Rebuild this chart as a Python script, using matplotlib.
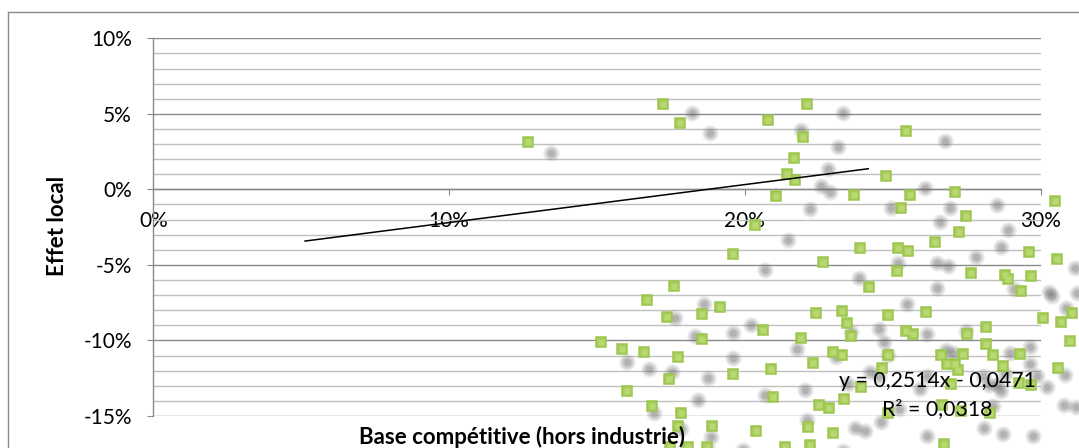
import matplotlib
matplotlib.use("Agg")
import matplotlib.pyplot as plt
from matplotlib.ticker import MultipleLocator, FuncFormatter
from matplotlib.transforms import Affine2D
from matplotlib.lines import Line2D

# base competitive (hors industrie), in %
base_comp = [12.67, 17.24, 17.82, 22.11, 20.77, 21.95, 21.65, 21.41, 21.69, 21.06,
             23.68, 24.76, 20.34, 19.61, 23.90, 22.63, 25.43, 25.57, 27.10, 25.27,
             27.46, 27.24, 26.42, 25.17, 25.50, 29.61, 30.48, 30.54, 25.15, 27.64,
             17.62, 16.68, 17.35, 18.55, 15.13, 15.86, 16.59, 18.55, 17.75, 17.43,
             16.00, 16.87, 17.84, 17.75, 17.47, 18.07, 18.71, 18.89, 24.19, 19.16,
             22.39, 23.27, 23.46, 24.84, 20.62, 21.89, 23.58, 22.99, 23.28, 24.84,
             22.29, 20.88, 19.59, 24.62, 23.93, 20.94, 23.34, 22.52, 22.84, 20.38,
             22.13, 22.99, 22.19, 21.34, 28.79, 28.89, 29.68, 29.33, 26.11, 30.08,
             30.69, 31.07, 25.44, 25.68, 27.51, 28.16, 28.16, 30.98, 26.63, 27.36,
             28.38, 29.29, 26.83, 27.10, 27.22, 28.71, 30.60, 26.97, 29.25, 29.66,
             26.67, 27.29, 28.27, 26.73, 24.85]

# effet local, in %
effet_local = [3.14, 5.63, 4.41, 5.63, 4.59, 3.47, 2.10, 1.02, 0.62, -0.44,
               -0.37, 0.91, -2.39, -4.28, -3.86, -4.80, 3.85, -0.37, -0.16, -1.22,
               -1.73, -2.80, -3.47, -3.86, -4.06, -4.13, -0.79, -4.59, -5.41, -5.51,
               -6.41, -7.34, -8.44, -8.27, -10.12, -10.55, -10.76, -9.88, -11.11, -12.53,
               -13.34, -14.37, -14.83, -15.67, -17.08, -17.03, -17.05, -15.67, -6.45, -7.77,
               -8.19, -8.03, -8.87, -8.33, -9.31, -9.82, -9.68, -10.75, -10.99, -10.97,
               -11.48, -11.90, -12.22, -11.84, -13.10, -13.77, -13.89, -14.26, -14.45, -15.99,
               -15.76, -16.10, -16.95, -17.05, -5.65, -5.93, -5.73, -6.72, -8.13, -8.51,
               -8.81, -8.19, -9.35, -9.56, -9.55, -9.13, -10.21, -10.03, -10.97, -10.88,
               -10.99, -10.91, -11.54, -11.54, -11.97, -11.67, -11.84, -12.88, -12.81, -12.96,
               -14.28, -14.69, -14.82, -16.88, -14.77]

# linear trend (as printed on the chart) and its x span
slope = 0.2514
intercept = -0.0471
trend_x = [0.0513, 0.2417]

x = [v / 100 for v in base_comp]
y = [v / 100 for v in effet_local]

plt.rcParams['font.family'] = ['Lato', 'DejaVu Sans']

W, H = 1079, 448
fig = plt.figure(figsize=(W / 100, H / 100), dpi=100)
ax = fig.add_axes([153.3 / W, 1 - 416 / H, (1040.7 - 153.3) / W, (416 - 38.3) / H])

grid_major = '#8a8a8a'
grid_minor = '#c0c0c0'

# grey perspective shadow behind the markers
shadow_tr = ax.transData + Affine2D().translate(-38, -539).scale(1.046).translate(38, 539)
for ms, a in [(12, 0.10), (10, 0.14), (7.5, 0.18), (5, 0.22)]:
    ax.plot(x, y, 'o', ms=ms, color='#6a6a6a', alpha=a, mec='none',
            transform=shadow_tr, clip_on=False, zorder=3)

ax.plot(x, y, 's', ms=7.0, mfc='#a6cc55', mec='#9cc650', mew=1.1,
        linestyle='none', clip_on=False, zorder=4)
ax.plot(x, y, 's', ms=4.2, mfc='#b9d874', mec='none',
        linestyle='none', clip_on=False, zorder=4)

tx = trend_x
ty = [slope * v + intercept for v in tx]
ax.plot(tx, ty, color='black', lw=1.1, zorder=5, clip_on=False)

ax.set_xlim(0, 0.30)
ax.set_ylim(-0.15, 0.10)

pct = FuncFormatter(lambda v, p: f"{round(v * 100):d}%")
ax.xaxis.set_major_locator(MultipleLocator(0.10))
ax.yaxis.set_major_locator(MultipleLocator(0.05))
ax.yaxis.set_minor_locator(MultipleLocator(0.01))
ax.xaxis.set_major_formatter(pct)
ax.yaxis.set_major_formatter(pct)

ax.grid(True, axis='y', which='minor', color=grid_minor, lw=1.0, zorder=0)
ax.grid(True, axis='y', which='major', color=grid_major, lw=1.0, zorder=0)
ax.set_axisbelow(True)

ax.spines['top'].set_visible(False)
ax.spines['right'].set_visible(False)
ax.spines['bottom'].set_position(('data', 0))
for s in ['left', 'bottom']:
    ax.spines[s].set_color(grid_major)
    ax.spines[s].set_linewidth(1.0)

ax.tick_params(axis='both', which='major', direction='out', length=4.5,
               color=grid_major, labelsize=15, labelcolor='black', pad=11)
ax.tick_params(axis='y', which='minor', length=0)

fig.text(522 / W, 1 - 437 / H, 'Base compétitive (hors industrie)',
         ha='center', va='center', fontsize=16, fontweight='bold')
fig.text(57 / W, 1 - 226 / H, 'Effet local', rotation=90,
         ha='center', va='center', fontsize=16, fontweight='bold')

fig.text(937 / W, 1 - 381 / H, f'y = {slope:.4f}x - {-intercept:.4f}'.replace('.', ','),
         ha='center', va='center', fontsize=15.3, zorder=10)
fig.text(937.5 / W, 1 - 409 / H, 'R² = 0,0318',
         ha='center', va='center', fontsize=15.3, zorder=10)

fig.add_artist(Line2D([8 / W, 1], [1 - 12 / H, 1 - 12 / H], transform=fig.transFigure,
                      color=grid_major, lw=1.0))
fig.add_artist(Line2D([8 / W, 8 / W], [0, 1 - 12 / H], transform=fig.transFigure,
                      color=grid_major, lw=1.0))

fig.savefig('out.png', dpi=100)
